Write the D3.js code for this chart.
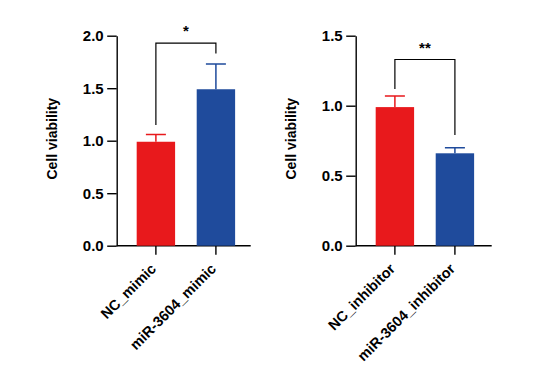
<!DOCTYPE html>
<html>
<head>
<meta charset="utf-8">
<script src="https://cdn.jsdelivr.net/npm/d3@7"></script>
<style>
  body { margin: 0; background: #fff; }
  text { font-family: "Liberation Sans", Arial, sans-serif; font-weight: bold; }
</style>
</head>
<body>
<script>
// data
const mimicGroups = ["NC_mimic", "miR-3604_mimic"];
const mimicMeans = [0.99, 1.49];
const mimicErr = [0.07, 0.24];
const mimicTicks = [0, 0.5, 1.0, 1.5, 2.0];

const inhibGroups = ["NC_inhibitor", "miR-3604_inhibitor"];
const inhibMeans = [0.99, 0.66];
const inhibErr = [0.08, 0.04];
const inhibTicks = [0, 0.5, 1.0, 1.5];

const barColors = ["#e8191c", "#1f4b9c"];

const svg = d3.select("body").append("svg")
    .attr("width", 542)
    .attr("height", 366);

function panel(opts) {
    const g = svg.append("g").attr("transform", "translate(" + opts.left + ",0)");
    const top = 35.7, bottom = 245.7;

    const y = d3.scaleLinear().domain([0, opts.max]).range([bottom, top]);
    const x = d3.scaleBand().domain(opts.groups).range([0, 138.4]).paddingInner(0.36).paddingOuter(0.333);

    // y axis
    const yAxis = g.append("g")
        .call(d3.axisLeft(y).tickValues(opts.ticks).tickFormat(d3.format(".1f")).tickSize(9.5).tickSizeOuter(0));
    yAxis.select(".domain").attr("stroke-width", 1.4);
    yAxis.selectAll(".tick line").attr("stroke-width", 1.4);
    yAxis.selectAll(".tick text").attr("font-size", 15).attr("fill", "#000").attr("x", -13);

    // x axis
    const xAxis = g.append("g")
        .attr("transform", "translate(0," + bottom + ")")
        .call(d3.axisBottom(x).tickSize(9).tickSizeOuter(0));
    xAxis.select(".domain").attr("d", "M0,0H" + opts.xEnd).attr("stroke-width", 1.4);
    xAxis.selectAll(".tick line").attr("stroke-width", 1.4);
    xAxis.selectAll(".tick text")
        .attr("font-size", 14.5).attr("fill", "#000")
        .attr("text-anchor", "end")
        .attr("dy", null).attr("y", 0)
        .attr("transform", "translate(1,24) rotate(-45)");

    // bars
    g.selectAll("rect.bar").data(opts.groups).enter().append("rect")
        .attr("x", d => x(d))
        .attr("width", x.bandwidth())
        .attr("y", (d, i) => y(opts.means[i]))
        .attr("height", (d, i) => bottom - y(opts.means[i]))
        .attr("fill", (d, i) => barColors[i]);

    // upper error bars
    opts.groups.forEach((d, i) => {
        const cx = x(d) + x.bandwidth() / 2;
        const yt = y(opts.means[i] + opts.err[i]);
        g.append("path")
            .attr("d", "M" + cx + "," + y(opts.means[i]) + "V" + yt + "M" + (cx - 10) + "," + yt + "H" + (cx + 10))
            .attr("stroke", barColors[i]).attr("stroke-width", 1.5).attr("fill", "none");
    });

    // significance bracket
    const x1 = x(opts.groups[0]) + x.bandwidth() / 2;
    const x2 = x(opts.groups[1]) + x.bandwidth() / 2;
    const yb = y(opts.bracket[0]);
    g.append("path")
        .attr("d", "M" + x1 + "," + y(opts.bracket[1]) + "V" + yb + "H" + x2 + "V" + y(opts.bracket[2]))
        .attr("stroke", "#000").attr("stroke-width", 1.2).attr("fill", "none");
    g.append("text")
        .attr("x", (x1 + x2) / 2).attr("y", yb - 7)
        .attr("text-anchor", "middle").attr("font-size", 15)
        .text(opts.stars);

    // y label
    g.append("text")
        .attr("transform", "translate(-60," + ((top + bottom) / 2 - 2) + ") rotate(-90)")
        .attr("text-anchor", "middle").attr("font-size", 14)
        .text("Cell viability");
}

panel({ left: 116.7, groups: mimicGroups, means: mimicMeans, err: mimicErr, ticks: mimicTicks,
        max: 2.0, xEnd: 134, bracket: [1.93, 1.15, 1.83], stars: "*" });
panel({ left: 355.7, groups: inhibGroups, means: inhibMeans, err: inhibErr, ticks: inhibTicks,
        max: 1.5, xEnd: 136, bracket: [1.33, 1.12, 0.79], stars: "**" });
</script>
</body>
</html>
